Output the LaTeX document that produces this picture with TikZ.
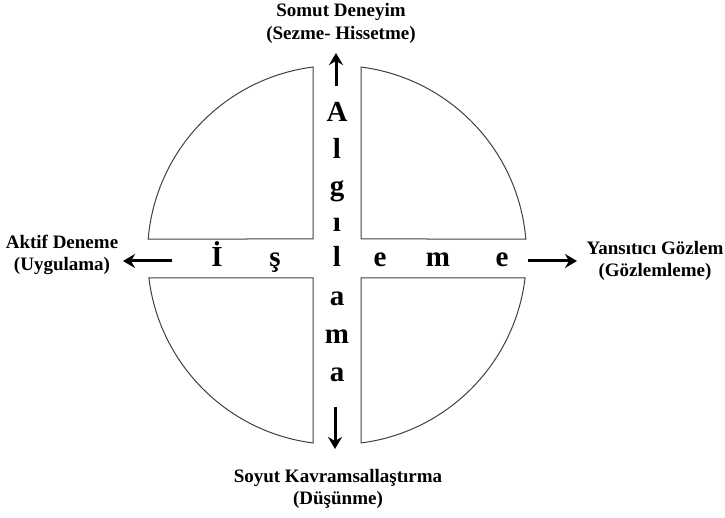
\documentclass[tikz,border=0pt]{standalone}
\usepackage{fontspec}
\setmainfont{Liberation Serif}
\usetikzlibrary{arrows.meta}
\begin{document}
\begin{tikzpicture}[x=1pt,y=1pt,
  quad/.style={draw=black!75,line width=1pt},
  big/.style={font=\fontsize{29}{31}\selectfont\bfseries,anchor=base,inner sep=0pt},
  lbl/.style={font=\fontsize{19}{22.5}\selectfont\bfseries,align=center,inner sep=0pt},
  arr/.style={line width=3pt,-{Stealth[length=12pt,width=14pt,inset=4pt]}}]
\useasboundingbox (0,0) rectangle (725,517);
\coordinate (C) at (337,262);
\pgfmathsetmacro{\R}{189.5}
\pgfmathsetmacro{\aT}{asin(16/\R)}
\pgfmathsetmacro{\aB}{asin(23/\R)}
\pgfmathsetmacro{\aV}{asin(24/\R)}
% quadrants
\draw[quad] ([shift={(C)}]{180-\aT}:\R) arc[start angle={180-\aT}, end angle={90+\aV}, radius=\R] -- (313,278) -- cycle;
\draw[quad] ([shift={(C)}]{90-\aV}:\R) arc[start angle={90-\aV}, end angle={\aT}, radius=\R] -- (361,278) -- cycle;
\draw[quad] ([shift={(C)}]{180+\aB}:\R) arc[start angle={180+\aB}, end angle={270-\aV}, radius=\R] -- (313,239) -- cycle;
\draw[quad] ([shift={(C)}]{270+\aV}:\R) arc[start angle={270+\aV}, end angle={360-\aB}, radius=\R] -- (361,239) -- cycle;
% vertical word
\node[big] (v1) at (337,395) {A};
\node[big] (v2) at (337,358) {l};
\node[big] (v3) at (337,321) {g};
\node[big] (v4) at (337,285) {ı};
\node[big] (v5) at (337,250) {l};
\node[big] (v6) at (337,211) {a};
\node[big] (v7) at (337,173) {m};
\node[big] (v8) at (337,136) {a};
% horizontal word
\node[big] (h1) at (217,250) {İ};
\node[big] (h2) at (275,250) {ş};
\node[big] (h4) at (380,250) {e};
\node[big] (h5) at (438,250) {m};
\node[big] (h6) at (502,250) {e};
% labels
\node[lbl] (top) at (341,493.5) {Somut Deneyim\\(Sezme- Hissetme)};
\node[lbl] (bot) at (338,28) {Soyut Kavramsallaştırma\\(Düşünme)};
\node[lbl] (lef) at (62,262) {Aktif Deneme\\(Uygulama)};
\node[lbl] (rig) at (655,256) {Yansıtıcı Gözlem\\(Gözlemleme)};
% arrows
\coordinate (tA) at (336,431); \coordinate (tB) at (336,464);
\coordinate (bA) at (335,110); \coordinate (bB) at (335,68);
\coordinate (lA) at (172,256); \coordinate (lB) at (123,256);
\coordinate (rA) at (528,256); \coordinate (rB) at (577,256);
\draw[arr] (tA) -- (tB);
\draw[arr] (bA) -- (bB);
\draw[arr] (lA) -- (lB);
\draw[arr] (rA) -- (rB);
\end{tikzpicture}
\end{document}
